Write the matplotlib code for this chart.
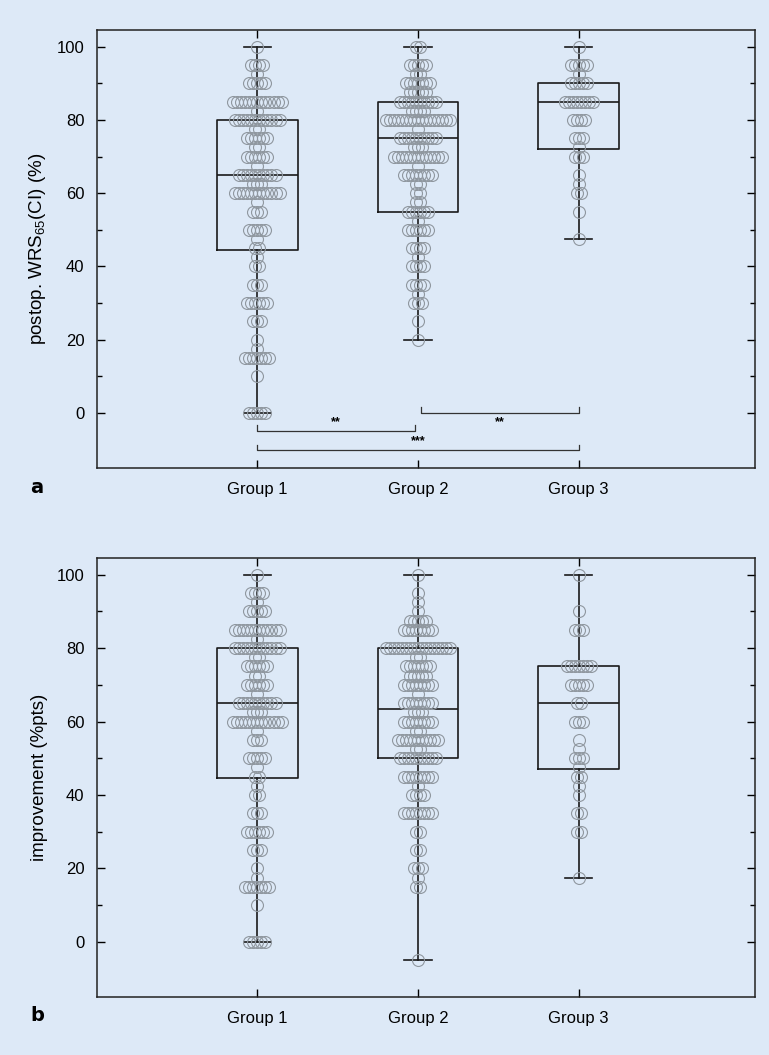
import numpy as np
import matplotlib.pyplot as plt

plt.rcParams['font.family'] = ['Liberation Sans Narrow', 'Liberation Sans', 'DejaVu Sans']
plt.rcParams['mathtext.default'] = 'regular'

groups = ["Group 1", "Group 2", "Group 3"]

# panel a: postop. WRS65(CI), one entry per swarm row (value, number of patients)
a_g1_vals = [100, 95, 92.5, 90, 85, 82.5, 80, 77.5, 75, 72.5, 70, 67.5, 65, 62.5, 60, 57.5, 55,
             50, 47.5, 45, 42.5, 40, 35, 30, 25, 20, 17.5, 15, 10, 0]
a_g1_counts = [1, 4, 1, 5, 13, 1, 12, 2, 6, 2, 6, 1, 10, 3, 12, 1, 3,
               5, 1, 2, 1, 2, 3, 6, 3, 1, 1, 7, 1, 5]
a_g2_vals = [100, 95, 92.5, 90, 87.5, 85, 82.5, 80, 77.5, 75, 72.5, 70, 67.5, 65, 62.5, 60,
             57.5, 55, 52.5, 50, 45, 42.5, 40, 35, 32.5, 30, 25, 20]
a_g2_counts = [2, 5, 2, 7, 5, 10, 4, 17, 1, 10, 3, 13, 1, 8, 2, 2,
               2, 6, 1, 6, 4, 1, 4, 4, 1, 3, 1, 1]
a_g3_vals = [100, 95, 92.5, 90, 85, 80, 75, 72.5, 70, 65, 62.5, 60, 55, 47.5]
a_g3_counts = [1, 5, 1, 5, 8, 4, 3, 1, 3, 1, 1, 2, 1, 1]

# panel b: improvement (%pts)
b_g1_vals = [100, 95, 92.5, 90, 85, 82.5, 80, 77.5, 75, 72.5, 70, 67.5, 65, 62.5, 60, 57.5, 55,
             50, 47.5, 45, 42.5, 40, 35, 30, 25, 20, 17.5, 15, 10, 0]
b_g1_counts = [1, 4, 1, 5, 12, 1, 12, 2, 6, 2, 6, 1, 10, 3, 13, 1, 3,
               5, 1, 2, 1, 2, 3, 6, 3, 1, 1, 7, 1, 5]
b_g2_vals = [100, 95, 92.5, 90, 87.5, 85, 80, 77.5, 75, 72.5, 70, 67.5, 65, 62.5, 60, 57.5,
             55, 52.5, 50, 45, 42.5, 40, 35, 30, 25, 20, 17.5, 15, -5]
b_g2_counts = [1, 1, 1, 1, 5, 8, 17, 2, 7, 5, 8, 1, 8, 3, 8, 2,
               11, 2, 10, 8, 1, 4, 8, 2, 2, 3, 1, 2, 1]
b_g3_vals = [100, 90, 85, 75, 70, 65, 60, 55, 52.5, 50, 47.5, 45, 42.5, 40, 35, 30, 17.5]
b_g3_counts = [1, 1, 3, 7, 5, 2, 3, 1, 1, 3, 1, 2, 1, 1, 2, 2, 1]

# box statistics
a_q1 = [44.5, 55, 72]
a_med = [65, 75, 85]
a_q3 = [80, 85, 90]
a_lo = [0, 20, 47.5]
a_hi = [100, 100, 100]

b_q1 = [44.5, 50, 47]
b_med = [65, 63.5, 65]
b_q3 = [80, 80, 75]
b_lo = [0, -5, 17.5]
b_hi = [100, 100, 100]

bg = '#dde9f7'
pt_col = '#8f979f'


def swarm(ax, pos, vals, counts, step=0.025):
    xs, ys = [], []
    for v, n in zip(vals, counts):
        off = (np.arange(n) - (n - 1) / 2) * step
        xs.extend(pos + off)
        ys.extend([v] * n)
    ax.plot(xs, ys, 'o', ms=8.6, mfc='none', mec=pt_col, mew=0.8, zorder=3)


def panel(ax, data, q1, med, q3, lo, hi, ylabel):
    stats = []
    for i in range(3):
        stats.append(dict(q1=q1[i], med=med[i], q3=q3[i], whislo=lo[i], whishi=hi[i], fliers=[]))
    ax.bxp(stats, positions=[1, 2, 3], widths=0.5, capwidths=0.17, showfliers=False,
           boxprops=dict(color='#1a1a1a', lw=1.2),
           medianprops=dict(color='#1a1a1a', lw=1.2),
           whiskerprops=dict(color='#1a1a1a', lw=1.2),
           capprops=dict(color='#1a1a1a', lw=1.2))
    for i, (vals, counts) in enumerate(data):
        swarm(ax, i + 1, vals, counts)
    ax.set_xlim(0, 4.1)
    ax.set_ylim(-15, 104.5)
    ax.set_xticks([1, 2, 3])
    ax.set_xticklabels(groups)
    ax.set_yticks(range(0, 101, 20))
    ax.set_yticks(range(10, 101, 20), minor=True)
    ax.tick_params(axis='both', which='both', direction='in', top=True, right=True, labelsize=12)
    ax.tick_params(axis='both', which='major', length=6, width=1)
    ax.tick_params(axis='y', which='minor', length=3.5, width=1)
    ax.tick_params(axis='y', pad=9)
    ax.tick_params(axis='x', pad=10)
    ax.set_facecolor(bg)
    for s in ax.spines.values():
        s.set_linewidth(1.1)
        s.set_color('#222222')
    ax.set_ylabel(ylabel, fontsize=13.5)
    ax.yaxis.set_label_coords(-0.074, 0.5)


fig = plt.figure(figsize=(7.69, 10.55), dpi=100, facecolor=bg)
ax1 = fig.add_axes([0.126, 0.5564, 0.856, 0.415])
ax2 = fig.add_axes([0.126, 0.055, 0.856, 0.416])

panel(ax1, [(a_g1_vals, a_g1_counts), (a_g2_vals, a_g2_counts), (a_g3_vals, a_g3_counts)],
      a_q1, a_med, a_q3, a_lo, a_hi, r'postop. WRS$_{65}$(CI) (%)')
panel(ax2, [(b_g1_vals, b_g1_counts), (b_g2_vals, b_g2_counts), (b_g3_vals, b_g3_counts)],
      b_q1, b_med, b_q3, b_lo, b_hi, 'improvement (%pts)')

# significance brackets in panel a
brackets = [(1, 1.98, -5, -2.6, '**'), (2.02, 3, 0, -2.6, '**'), (1, 3, -10.2, -7.6, '***')]
for x0, x1, y, ty, lab in brackets:
    ax1.plot([x0, x0, x1, x1], [y + 1.6, y, y, y + 1.6], color='#333333', lw=0.9)
    ax1.text((x0 + x1) / 2, ty, lab, ha='center', va='center', fontsize=9, fontweight='bold')

fig.text(0.048, 0.538, 'a', fontsize=14, fontweight='bold', family=['DejaVu Sans'],
         ha='center', va='center')
fig.text(0.048, 0.037, 'b', fontsize=14, fontweight='bold', family=['DejaVu Sans'],
         ha='center', va='center')

fig.savefig('out.png', dpi=100, facecolor=bg)
